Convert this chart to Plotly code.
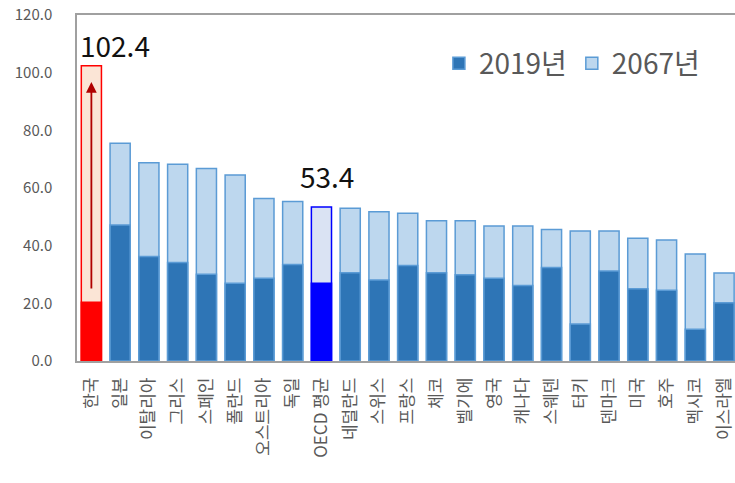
import plotly.graph_objects as go

countries = ["한국", "일본", "이탈리아", "그리스", "스페인", "폴란드", "오스트리아", "독일",
             "OECD 평균", "네덜란드", "스위스", "프랑스", "체코", "벨기에", "영국", "캐나다",
             "스웨덴", "터키", "덴마크", "미국", "호주", "멕시코", "이스라엘"]
y2019 = [20.4, 47.2, 36.2, 34.2, 30.1, 27.0, 28.7, 33.5,
         27.0, 30.6, 28.1, 33.1, 30.6, 29.9, 28.7, 26.2,
         32.4, 12.8, 31.2, 25.1, 24.5, 11.0, 20.2]
y2067 = [102.4, 75.5, 68.8, 68.2, 66.8, 64.5, 56.4, 55.3,
         53.4, 53.0, 51.8, 51.2, 48.6, 48.6, 46.8, 46.8,
         45.6, 45.1, 45.1, 42.6, 42.0, 37.1, 30.5]
highlight = {"한국": ("#FF0000", "#FBE5D6", "#FF0000"),
             "OECD 평균": ("#0000FF", "#DAE3F3", "#0000FF")}

DARK, LIGHT, EDGE = "#2E75B6", "#BDD7EE", "#5B9BD5"

idx = list(range(len(countries)))
reg = [i for i in idx if countries[i] not in highlight]

fig = go.Figure()
fig.add_trace(go.Bar(x=[countries[i] for i in reg], y=[y2067[i] for i in reg], name="2067년",
                     marker=dict(color=LIGHT, line=dict(color=EDGE, width=1.5)), legendrank=2))
fig.add_trace(go.Bar(x=[countries[i] for i in reg], y=[y2019[i] for i in reg], name="2019년",
                     marker=dict(color=DARK, line=dict(color=EDGE, width=1.5)), legendrank=1))
for c, (dk, lt, ed) in highlight.items():
    i = countries.index(c)
    fig.add_trace(go.Bar(x=[c], y=[y2067[i]], showlegend=False,
                         marker=dict(color=lt, line=dict(color=ed, width=1.5))))
    fig.add_trace(go.Bar(x=[c], y=[y2019[i]], showlegend=False,
                         marker=dict(color=dk, line=dict(color=ed, width=1.5))))

# arrow in Korea bar
fig.add_annotation(x=countries[0], y=96.8, ax=countries[0], ay=24.6, xref="x", yref="y",
                   axref="x", ayref="y", showarrow=True, arrowhead=2, arrowsize=1.2,
                   arrowwidth=1.8, arrowcolor="#B00000", text="")
fig.add_annotation(x=countries[0], y=109.6, text=f"{y2067[0]:.1f}", showarrow=False,
                   xanchor="left", xshift=-13, font=dict(size=28, color="#111111"))
k = countries.index("OECD 평균")
fig.add_annotation(x=countries[k], y=64.2, text=f"{y2067[k]:.1f}", showarrow=False,
                   xanchor="center", xshift=6, font=dict(size=28, color="#111111"))

FONT = "Noto Sans CJK KR"
fig.update_layout(
    width=735, height=483, barmode="overlay", bargap=0.3,
    margin=dict(l=77, r=0, t=15, b=122),
    plot_bgcolor="white", paper_bgcolor="white",
    font=dict(family=FONT, color="#595959"),
    showlegend=True,
    legend=dict(orientation="h", x=0.55, y=0.86, xanchor="left", yanchor="middle",
                font=dict(size=28, color="#595959", family=FONT), bgcolor="rgba(0,0,0,0)",
                itemwidth=30),
    xaxis=dict(categoryorder="array", categoryarray=countries, range=[-0.5, 22.38],
               tickangle=-90, tickfont=dict(size=17, color="#595959"),
               showline=True, linecolor="#A0A0A0", linewidth=1.5, mirror=True,
               ticks="", showgrid=False, ticklabelstandoff=8),
    yaxis=dict(range=[0, 120], tickvals=[0, 20, 40, 60, 80, 100, 120], tickformat=".1f",
               tickfont=dict(size=15, color="#595959"), showline=True, linecolor="#A0A0A0",
               linewidth=1.5, showgrid=False, zeroline=False, ticks="", ticklabelstandoff=20,
               ticklabeloverflow="allow"),
)
fig.write_html("out.html", config={"displayModeBar": False},
               post_script="document.body.style.margin='0';document.body.style.overflow='hidden';")
